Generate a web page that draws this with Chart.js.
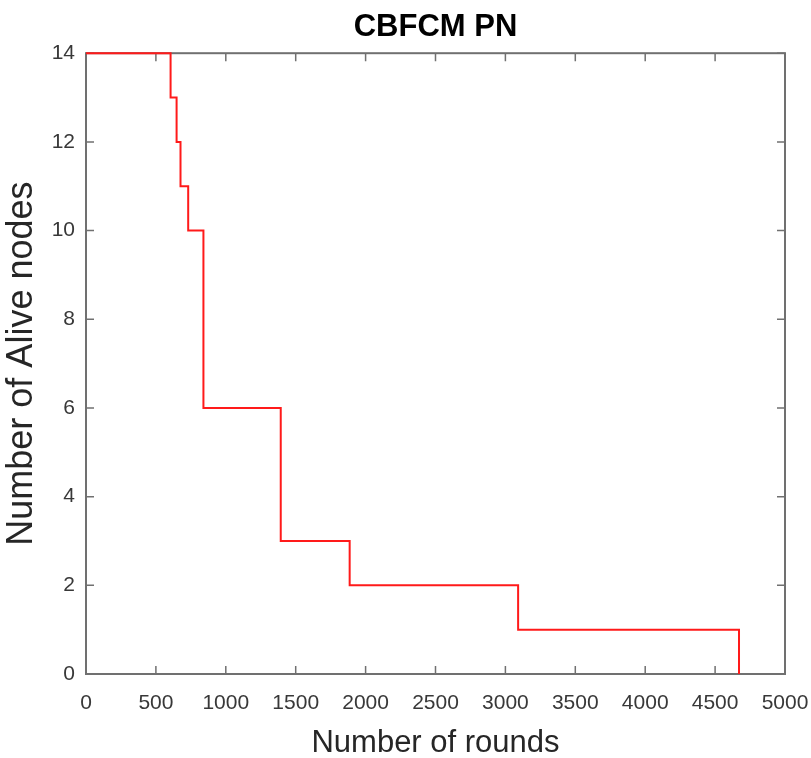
<!DOCTYPE html>
<html>
<head>
<meta charset="utf-8">
<script src="https://cdn.jsdelivr.net/npm/chart.js@4"></script>
<style>
  html, body { margin: 0; padding: 0; background: #fff; }
</style>
</head>
<body>
<canvas id="aliveChart" width="811" height="758" style="width:811px;height:758px"></canvas>
<script>
// rounds at which the alive-node count changes, and the count from there on
const rounds = [0, 605, 648, 676, 731, 840, 1393, 1886, 3091, 4671];
const aliveNodes = [14, 13, 12, 11, 10, 6, 3, 2, 1, 0];

const xTicks = [0, 500, 1000, 1500, 2000, 2500, 3000, 3500, 4000, 4500, 5000];
const yTicks = [0, 2, 4, 6, 8, 10, 12, 14];

const tickFont = { family: "'Liberation Sans', Arial, sans-serif", size: 21 };

// box frame with inward tick marks on all four sides
const boxFrame = {
  id: 'boxFrame',
  beforeDatasetsDraw(chart) {
    const { ctx, chartArea: a, scales: { x, y } } = chart;
    ctx.save();
    ctx.strokeStyle = '#707070';
    ctx.lineWidth = 2;
    ctx.strokeRect(a.left, a.top, a.right - a.left, a.bottom - a.top);
    ctx.lineWidth = 1.5;
    ctx.beginPath();
    x.ticks.forEach(t => {
      const px = x.getPixelForValue(t.value);
      ctx.moveTo(px, a.bottom); ctx.lineTo(px, a.bottom - 8);
      ctx.moveTo(px, a.top); ctx.lineTo(px, a.top + 8);
    });
    y.ticks.forEach(t => {
      const py = y.getPixelForValue(t.value);
      ctx.moveTo(a.left, py); ctx.lineTo(a.left + 8, py);
      ctx.moveTo(a.right, py); ctx.lineTo(a.right - 8, py);
    });
    ctx.stroke();
    ctx.restore();
  }
};

new Chart(document.getElementById('aliveChart'), {
  type: 'line',
  data: {
    datasets: [{
      data: rounds.map((r, i) => ({ x: r, y: aliveNodes[i] })),
      stepped: 'before',
      borderColor: '#ff1a1a',
      borderWidth: 2,
      pointRadius: 0,
      fill: false,
      clip: false
    }]
  },
  options: {
    responsive: false,
    animation: false,
    layout: { padding: { left: 0, right: 26, top: 0, bottom: 0 } },
    plugins: {
      legend: { display: false },
      tooltip: { enabled: false },
      title: {
        display: true,
        fullSize: false,
        text: 'CBFCM PN',
        color: '#000',
        font: { family: "'Liberation Sans', Arial, sans-serif", size: 31, weight: 'bold' },
        padding: { top: 9, bottom: 7 }
      }
    },
    scales: {
      x: {
        type: 'linear',
        min: 0,
        max: 5000,
        afterFit: s => { s.height = 84; s.paddingLeft = 0; s.paddingRight = 0; },
        afterBuildTicks: s => { s.ticks = xTicks.map(v => ({ value: v })); },
        grid: { display: false, drawTicks: false },
        border: { display: false },
        ticks: { color: '#383838', font: tickFont, padding: 17, maxRotation: 0, callback: v => String(v) },
        title: { display: true, text: 'Number of rounds', color: '#262626', font: { family: "'Liberation Sans', Arial, sans-serif", size: 31 }, padding: { top: 0, bottom: -4 } }
      },
      y: {
        type: 'linear',
        min: 0,
        max: 14,
        afterFit: s => { s.width = 86; s.paddingTop = 0; s.paddingBottom = 0; },
        afterBuildTicks: s => { s.ticks = yTicks.map(v => ({ value: v })); },
        grid: { display: false, drawTicks: false },
        border: { display: false },
        ticks: { color: '#383838', font: tickFont, padding: 11, callback: v => String(v) },
        title: { display: true, text: 'Number of Alive nodes', color: '#262626', font: { family: "'Liberation Sans', Arial, sans-serif", size: 36 }, padding: { top: 0, bottom: 0 } }
      }
    }
  },
  plugins: [boxFrame]
});
</script>
</body>
</html>
